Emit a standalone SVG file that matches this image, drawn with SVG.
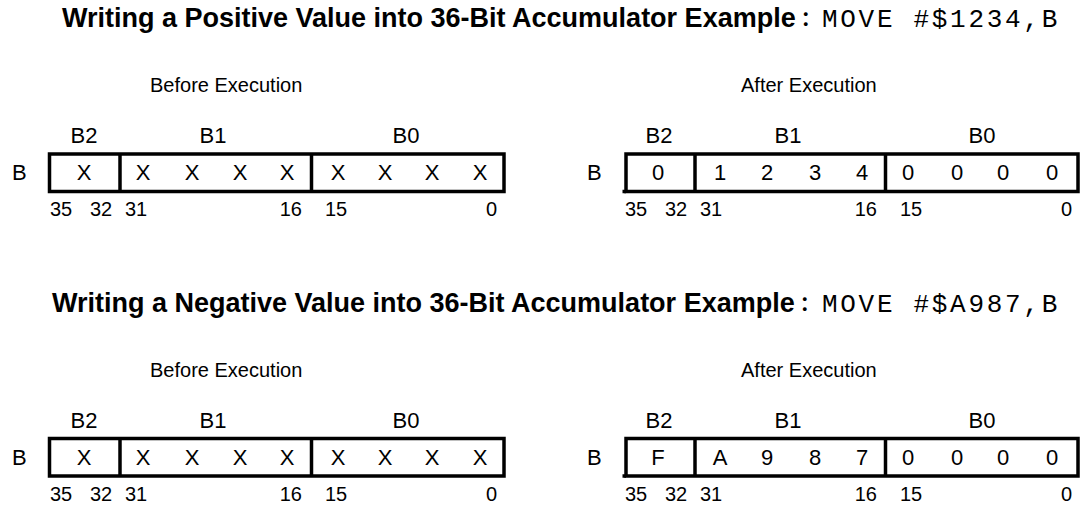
<svg xmlns="http://www.w3.org/2000/svg" width="1081" height="508" viewBox="0 0 1081 508">
<style>
  text { font-family: "Liberation Sans", Arial, sans-serif; fill: #000; }
  .title { font-size: 27px; font-weight: bold; }
  .colon { font-family: "Noto Sans CJK JP", "Noto Sans CJK SC", sans-serif; font-size: 20px; }
  .code { font-family: "Liberation Mono", "Courier New", monospace; font-size: 26px; letter-spacing: 2.7px; }
  .head { font-size: 20px; }
  .lbl { font-size: 22px; text-anchor: middle; }
  .reg { font-size: 22px; }
  .cell { font-size: 22px; text-anchor: middle; }
  .bit { font-size: 20px; }
  .bitr { font-size: 20px; text-anchor: end; }
  .box { fill: #fff; stroke: #000; stroke-width: 3.5; }
  .div { stroke: #000; stroke-width: 3.5; }
</style>
<rect width="1081" height="508" fill="#fff"/>

<g id="title1">
  <text class="title" x="62" y="27">Writing a Positive Value into 36-Bit Accumulator Example<tspan class="colon">：</tspan></text>
  <text class="code" x="822" y="27">MOVE #$1234,B</text>
</g>
<g id="heads1">
  <text class="head" x="150" y="92">Before Execution</text>
  <text class="head" x="741" y="92">After Execution</text>
</g>

<g id="reg-before-1">
  <text class="reg" x="12" y="180">B</text>
  <text class="lbl" x="84" y="143">B2</text>
  <text class="lbl" x="213" y="143">B1</text>
  <text class="lbl" x="406" y="143">B0</text>
  <rect class="box" x="49.5" y="154" width="454.5" height="37.5"/>
  <line class="div" x1="120" y1="154" x2="120" y2="191.5"/>
  <line class="div" x1="311.5" y1="154" x2="311.5" y2="191.5"/>
  <text class="cell" x="84" y="180">X</text>
  <text class="cell" x="143" y="180">X</text>
  <text class="cell" x="192" y="180">X</text>
  <text class="cell" x="240" y="180">X</text>
  <text class="cell" x="287" y="180">X</text>
  <text class="cell" x="338" y="180">X</text>
  <text class="cell" x="385" y="180">X</text>
  <text class="cell" x="432" y="180">X</text>
  <text class="cell" x="480" y="180">X</text>
  <text class="bit" x="50" y="216">35</text>
  <text class="bit" x="90" y="216">32</text>
  <text class="bit" x="125" y="216">31</text>
  <text class="bitr" x="302" y="216">16</text>
  <text class="bit" x="325" y="216">15</text>
  <text class="bitr" x="497" y="216">0</text>
</g>

<g id="reg-after-1">
  <text class="reg" x="587" y="180">B</text>
  <text class="lbl" x="659" y="143">B2</text>
  <text class="lbl" x="788" y="143">B1</text>
  <text class="lbl" x="982" y="143">B0</text>
  <rect class="box" x="626" y="154" width="452" height="37.5"/>
  <line class="div" x1="622.5" y1="191.5" x2="626" y2="191.5"/>
  <line class="div" x1="695" y1="154" x2="695" y2="191.5"/>
  <line class="div" x1="885.5" y1="154" x2="885.5" y2="191.5"/>
  <text class="cell" x="658" y="180">0</text>
  <text class="cell" x="720" y="180">1</text>
  <text class="cell" x="767" y="180">2</text>
  <text class="cell" x="815" y="180">3</text>
  <text class="cell" x="862" y="180">4</text>
  <text class="cell" x="908" y="180">0</text>
  <text class="cell" x="957" y="180">0</text>
  <text class="cell" x="1003" y="180">0</text>
  <text class="cell" x="1052" y="180">0</text>
  <text class="bit" x="625" y="216">35</text>
  <text class="bit" x="665" y="216">32</text>
  <text class="bit" x="700" y="216">31</text>
  <text class="bitr" x="877" y="216">16</text>
  <text class="bit" x="900" y="216">15</text>
  <text class="bitr" x="1072" y="216">0</text>
</g>

<g id="title2">
  <text class="title" x="52" y="312">Writing a Negative Value into 36-Bit Accumulator Example<tspan class="colon">：</tspan></text>
  <text class="code" x="822" y="312">MOVE #$A987,B</text>
</g>
<g id="heads2">
  <text class="head" x="150" y="377">Before Execution</text>
  <text class="head" x="741" y="377">After Execution</text>
</g>

<g id="reg-before-2" transform="translate(0,284.5)">
  <text class="reg" x="12" y="180">B</text>
  <text class="lbl" x="84" y="143">B2</text>
  <text class="lbl" x="213" y="143">B1</text>
  <text class="lbl" x="406" y="143">B0</text>
  <rect class="box" x="49.5" y="154" width="454.5" height="37.5"/>
  <line class="div" x1="120" y1="154" x2="120" y2="191.5"/>
  <line class="div" x1="311.5" y1="154" x2="311.5" y2="191.5"/>
  <text class="cell" x="84" y="180">X</text>
  <text class="cell" x="143" y="180">X</text>
  <text class="cell" x="192" y="180">X</text>
  <text class="cell" x="240" y="180">X</text>
  <text class="cell" x="287" y="180">X</text>
  <text class="cell" x="338" y="180">X</text>
  <text class="cell" x="385" y="180">X</text>
  <text class="cell" x="432" y="180">X</text>
  <text class="cell" x="480" y="180">X</text>
  <text class="bit" x="50" y="216">35</text>
  <text class="bit" x="90" y="216">32</text>
  <text class="bit" x="125" y="216">31</text>
  <text class="bitr" x="302" y="216">16</text>
  <text class="bit" x="325" y="216">15</text>
  <text class="bitr" x="497" y="216">0</text>
</g>

<g id="reg-after-2" transform="translate(0,284.5)">
  <text class="reg" x="587" y="180">B</text>
  <text class="lbl" x="659" y="143">B2</text>
  <text class="lbl" x="788" y="143">B1</text>
  <text class="lbl" x="982" y="143">B0</text>
  <rect class="box" x="626" y="154" width="452" height="37.5"/>
  <line class="div" x1="622.5" y1="191.5" x2="626" y2="191.5"/>
  <line class="div" x1="695" y1="154" x2="695" y2="191.5"/>
  <line class="div" x1="885.5" y1="154" x2="885.5" y2="191.5"/>
  <text class="cell" x="658" y="180">F</text>
  <text class="cell" x="720" y="180">A</text>
  <text class="cell" x="767" y="180">9</text>
  <text class="cell" x="815" y="180">8</text>
  <text class="cell" x="862" y="180">7</text>
  <text class="cell" x="908" y="180">0</text>
  <text class="cell" x="957" y="180">0</text>
  <text class="cell" x="1003" y="180">0</text>
  <text class="cell" x="1052" y="180">0</text>
  <text class="bit" x="625" y="216">35</text>
  <text class="bit" x="665" y="216">32</text>
  <text class="bit" x="700" y="216">31</text>
  <text class="bitr" x="877" y="216">16</text>
  <text class="bit" x="900" y="216">15</text>
  <text class="bitr" x="1072" y="216">0</text>
</g>
</svg>
